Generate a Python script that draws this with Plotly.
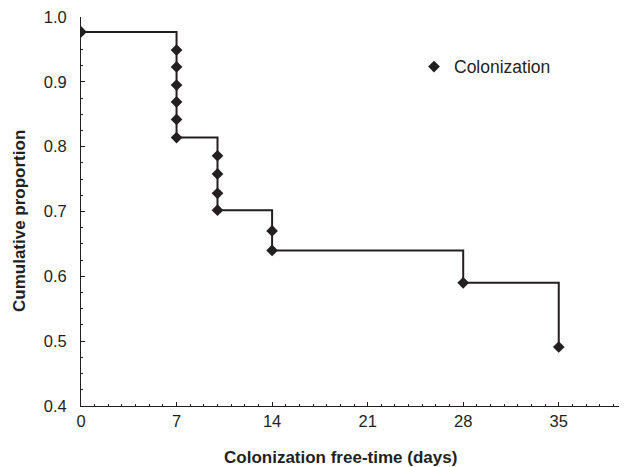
import plotly.graph_objects as go

days = [0, 7, 7, 7, 7, 7, 7, 10, 10, 10, 10, 14, 14, 28, 35]
proportion = [0.977, 0.949, 0.923, 0.895, 0.869, 0.842, 0.814,
              0.786, 0.758, 0.728, 0.702, 0.670, 0.640, 0.590, 0.491]
x_ticks = [0, 7, 14, 21, 28, 35]
y_ticks = [0.4, 0.5, 0.6, 0.7, 0.8, 0.9, 1.0]

ink = "#231f20"
font = "Liberation Sans, Arial, Helvetica, sans-serif"

# page has an 8px body margin; figure sized to fit the 627x467 window
W, H = 619, 459
L, T, R = 73, 9, 0
PW, PH = 546, 389
B = H - T - PH

fig = go.Figure()
fig.add_trace(go.Scatter(x=days, y=proportion, mode="lines", line=dict(shape="hv", color=ink, width=2),
                         showlegend=False, hoverinfo="skip"))
fig.add_trace(go.Scatter(x=days, y=proportion, mode="markers", name="Colonization",
                         marker=dict(symbol="diamond", size=9, color=ink)))

axis_common = dict(showgrid=False, zeroline=False, showline=True, linecolor=ink, linewidth=1,
                   ticks="inside", ticklen=4, tickwidth=1, tickcolor=ink,
                   ticklabeloverflow="allow",
                   tickfont=dict(family=font, size=16.5, color=ink))

def px_x(p):  # page pixel -> paper x
    return (p - 8 - L) / PW

def px_y(p):  # page pixel -> paper y
    return (T + PH - (p - 8)) / PH

fig.update_layout(
    width=W, height=H,
    margin=dict(l=L, r=R, t=T, b=B),
    plot_bgcolor="white", paper_bgcolor="white",
    xaxis=dict(range=[0, 40], tickvals=x_ticks,
               minor=dict(dtick=1, ticks="inside", ticklen=2, tickcolor=ink, tick0=0),
               **axis_common),
    yaxis=dict(range=[0.4, 1.0], tickvals=y_ticks, tickformat=".1f", ticklabelstandoff=10,
               minor=dict(dtick=0.025, ticks="inside", ticklen=2, tickcolor=ink, tick0=0.4),
               **axis_common),
    legend=dict(x=px_x(414), y=px_y(66.7), xanchor="left", yanchor="middle", bgcolor="rgba(0,0,0,0)",
                font=dict(family=font, size=17.5, color=ink)),
    annotations=[
        dict(text="<b>Colonization free-time (days)</b>", xref="paper", yref="paper",
             x=px_x(340), y=px_y(457), xanchor="center", yanchor="middle",
             showarrow=False, font=dict(family=font, size=17, color=ink)),
        dict(text="<b>Cumulative proportion</b>", xref="paper", yref="paper",
             x=px_x(19), y=px_y(221), xanchor="center", yanchor="middle",
             textangle=-90, showarrow=False, font=dict(family=font, size=17, color=ink)),
    ],
)

fig.write_html("out.html")
